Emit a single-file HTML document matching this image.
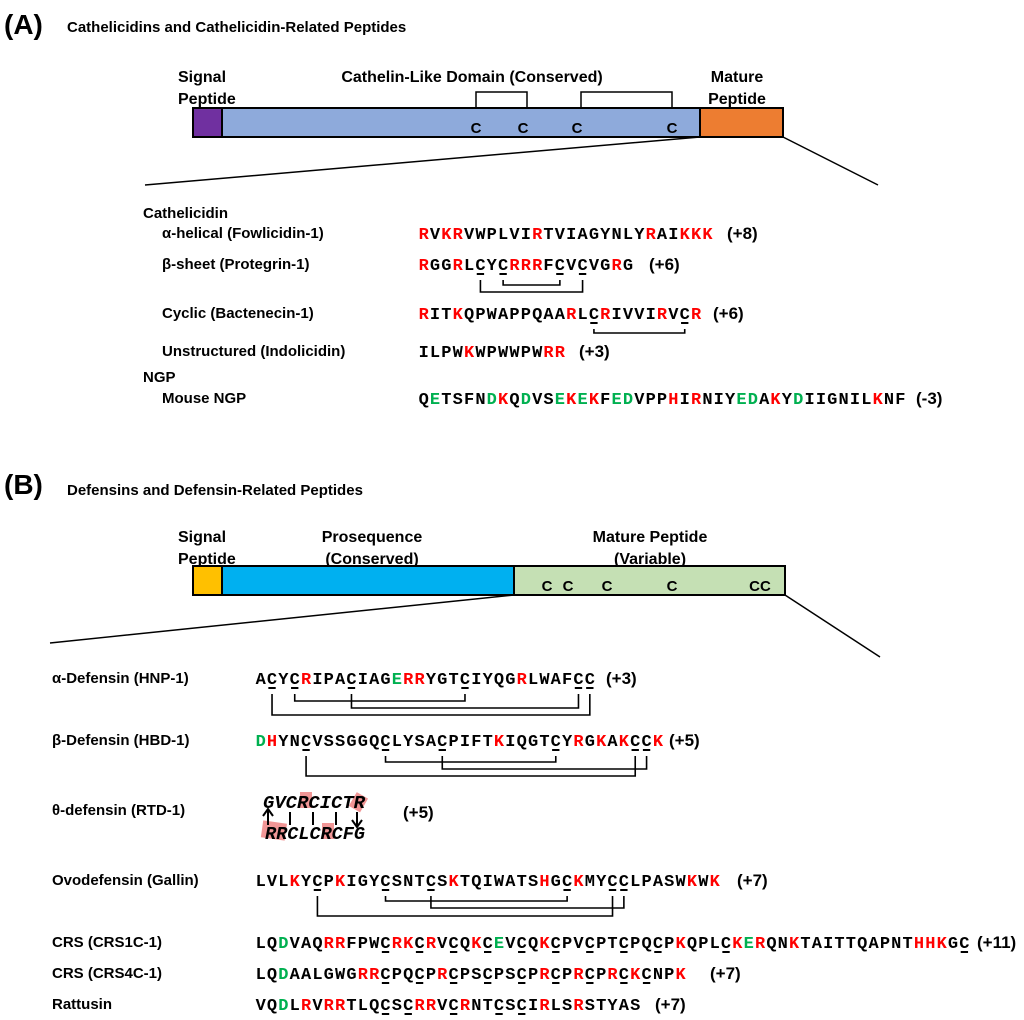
<!DOCTYPE html>
<html><head><meta charset="utf-8"><style>
html,body{margin:0;padding:0;background:#fff;width:1024px;height:1020px;overflow:hidden}
svg{display:block}
.l{font-family:"Liberation Sans",Arial,sans-serif;font-weight:bold;font-size:15px;fill:#000}
.s{font-family:"Liberation Mono","Courier New",monospace;font-weight:bold;font-size:17px}
</style></head><body>
<svg id="g" width="1024" height="1020" viewBox="0 0 1024 1020" xmlns="http://www.w3.org/2000/svg">
<g class="l">
<text x="4" y="34" style="font-size:28px">(A)</text>
<text x="67" y="32" style="font-size:15px">Cathelicidins and Cathelicidin-Related Peptides</text>
<text x="178" y="82" style="font-size:16px">Signal</text>
<text x="178" y="104" style="font-size:16px">Peptide</text>
<text x="472" y="82" text-anchor="middle" style="font-size:16px">Cathelin-Like Domain (Conserved)</text>
<text x="737" y="82" text-anchor="middle" style="font-size:16px">Mature</text>
<text x="737" y="104" text-anchor="middle" style="font-size:16px">Peptide</text>
</g>
<rect x="193" y="108" width="29" height="29" fill="#7030a0" stroke="#000" stroke-width="2"/>
<rect x="222" y="108" width="478" height="29" fill="#8eaadb" stroke="#000" stroke-width="2"/>
<rect x="700" y="108" width="83" height="29" fill="#ed7d31" stroke="#000" stroke-width="2"/>
<path d="M476 108V92H527V108M581 108V92H672V108" fill="none" stroke="#000" stroke-width="1.5"/>
<g class="l" text-anchor="middle" style="font-size:15px"><text x="476" y="133">C</text><text x="523" y="133">C</text><text x="577" y="133">C</text><text x="672" y="133">C</text></g>
<path d="M700 137L145 185M783 137L878 185" stroke="#000" stroke-width="1.5"/>
<g class="l">
<text x="143" y="218">Cathelicidin</text>
<text x="162" y="238">α-helical (Fowlicidin-1)</text>
<text x="162" y="269">β-sheet (Protegrin-1)</text>
<text x="162" y="318">Cyclic (Bactenecin-1)</text>
<text x="162" y="356">Unstructured (Indolicidin)</text>
<text x="143" y="382">NGP</text>
<text x="162" y="403">Mouse NGP</text>
<text x="727" y="239" style="font-size:17px">(+8)</text>
<text x="649" y="270" style="font-size:17px">(+6)</text>
<text x="713" y="319" style="font-size:17px">(+6)</text>
<text x="579" y="357" style="font-size:17px">(+3)</text>
<text x="916" y="404" style="font-size:17px">(-3)</text>

<text x="4" y="494" style="font-size:28px">(B)</text>
<text x="67" y="495" style="font-size:15px">Defensins and Defensin-Related Peptides</text>
<text x="178" y="542" style="font-size:16px">Signal</text>
<text x="178" y="564" style="font-size:16px">Peptide</text>
<text x="372" y="542" text-anchor="middle" style="font-size:16px">Prosequence</text>
<text x="372" y="564" text-anchor="middle" style="font-size:16px">(Conserved)</text>
<text x="650" y="542" text-anchor="middle" style="font-size:16px">Mature Peptide</text>
<text x="650" y="564" text-anchor="middle" style="font-size:16px">(Variable)</text>
</g>
<rect x="193" y="566" width="29" height="29" fill="#ffc000" stroke="#000" stroke-width="2"/>
<rect x="222" y="566" width="292" height="29" fill="#00b0f0" stroke="#000" stroke-width="2"/>
<rect x="514" y="566" width="271" height="29" fill="#c5e0b4" stroke="#000" stroke-width="2"/>
<g class="l" text-anchor="middle" style="font-size:15px"><text x="547" y="591">C</text><text x="568" y="591">C</text><text x="607" y="591">C</text><text x="672" y="591">C</text><text x="760" y="591">CC</text></g>
<path d="M514 595L50 643M785 595L880 657" stroke="#000" stroke-width="1.5"/>
<g class="l">
<text x="52" y="683">α-Defensin (HNP-1)</text>
<text x="52" y="745">β-Defensin (HBD-1)</text>
<text x="52" y="815">θ-defensin (RTD-1)</text>
<text x="52" y="885">Ovodefensin (Gallin)</text>
<text x="52" y="947">CRS (CRS1C-1)</text>
<text x="52" y="978">CRS (CRS4C-1)</text>
<text x="52" y="1009">Rattusin</text>
<text x="606" y="684" style="font-size:17px">(+3)</text>
<text x="669" y="746" style="font-size:17px">(+5)</text>
<text x="403" y="818" style="font-size:17px">(+5)</text>
<text x="737" y="886" style="font-size:17px">(+7)</text>
<text x="977" y="948" style="font-size:17px">(+11)</text>
<text x="710" y="979" style="font-size:17px">(+7)</text>
<text x="655" y="1010" style="font-size:17px">(+7)</text>
</g>
<g>
<rect x="300" y="792" width="12" height="16" fill="#e85050" opacity="0.6"/>
<rect x="352" y="794" width="13" height="16" fill="#e85050" opacity="0.6" transform="rotate(30 358 802)"/>
<rect x="262" y="822" width="24" height="17" fill="#e85050" opacity="0.6" transform="rotate(8 274 830)"/>
<rect x="322" y="823" width="12" height="16" fill="#e85050" opacity="0.6"/>
<text x="263" y="808" class="s" style="font-size:18px;font-style:italic" textLength="102" lengthAdjust="spacingAndGlyphs">GVCRCICTR</text>
<text x="265" y="839" class="s" style="font-size:18px;font-style:italic" textLength="100" lengthAdjust="spacingAndGlyphs">RRCLCRCFG</text>
<path d="M268 825V810M263 816L268 809L273 816M357 812V826M352 820L357 827L362 820M290 812V825M313 812V825M336 812V825" fill="none" stroke="#000" stroke-width="2"/>
</g>
</svg>
<script>
var NS="http://www.w3.org/2000/svg",svg=document.getElementById("g"),W=11.35;
function seq(x0,y,s){var i=0,m=null;for(var k=0;k<s.length;k++){var c=s[k];if(c=="*"){m="r";continue}if(c=="+"){m="g";continue}if(c=="_"){m="u";continue}
var t=document.createElementNS(NS,"text");t.setAttribute("x",x0+W*(i+0.5));t.setAttribute("y",y);t.setAttribute("text-anchor","middle");t.setAttribute("class","s");
t.setAttribute("fill",m=="r"?"#ff0000":m=="g"?"#00b050":"#000");t.textContent=c;svg.appendChild(t);
if(m=="u"){var l=document.createElementNS(NS,"line");l.setAttribute("x1",x0+W*i+2);l.setAttribute("x2",x0+W*(i+1)-2);l.setAttribute("y1",y+4);l.setAttribute("y2",y+4);l.setAttribute("stroke","#000");l.setAttribute("stroke-width","2");svg.appendChild(l)}
m=null;i++}}
function br(x0,y,a,b,lv){var xa=x0+W*(a+0.5),xb=x0+W*(b+0.5),p=document.createElementNS(NS,"path");
p.setAttribute("d","M"+xa+" "+(y+10)+"V"+lv+"H"+xb+"V"+(y+10));p.setAttribute("fill","none");p.setAttribute("stroke","#000");p.setAttribute("stroke-width","1.6");svg.appendChild(p)}
var X=418;
seq(X,239,"*RV*K*RVWPLVI*RTVIAGYNLY*RAI*K*K*K");
seq(X,270,"*RGG*RL_CY_C*R*R*RF_CV_CVG*RG");br(X,270,5,14,292);br(X,270,7,12,285);
seq(X,319,"*RIT*KQPWAPPQAA*RL_C*RIVVI*RV_C*R");br(X,319,15,23,333);
seq(X,357,"ILPW*KWPWWPW*R*R");
seq(X,404,"Q+ETSFN+D*KQ+DVS+E*K+E*KF+E+DVPP*HI*RNIY+E+DA*KY+DIIGNIL*KNF");
var B=255;
seq(B,684,"A_CY_C*RIPA_CIAG+E*R*RYGT_CIYQG*RLWAF_C_C");br(B,684,1,29,715);br(B,684,3,18,701);br(B,684,8,28,708);
seq(B,746,"+D*HYN_CVSSGGQ_CLYSA_CPIFT*KIQGT_CY*RG*KA*K_C_C*K");br(B,746,4,33,776);br(B,746,11,26,762);br(B,746,16,34,769);
seq(B,886,"LVL*KY_CP*KIGY_CSNT_CS*KTQIWATS*HG_C*KMY_C_CLPASW*KW*K");br(B,886,5,31,916);br(B,886,11,27,901);br(B,886,15,32,908);
seq(B,948,"LQ+DVAQ*R*RFPW_C*R*K_C*RV_CQ*K_C+EV_CQ*K_CPV_CPT_CPQ_CP*KQPL_C*K+E*RQN*KTAITTQAPNT*H*H*KG_C");
seq(B,979,"LQ+DAALGWG*R*R_CPQ_CP*R_CPS_CPS_CP*R_CP*R_CP*R_C*K_CNP*K");
seq(B,1010,"VQ+DL*RV*R*RTLQ_CS_C*R*RV_C*RNT_CS_CI*RLS*RSTYAS");
</script>
</body></html>
